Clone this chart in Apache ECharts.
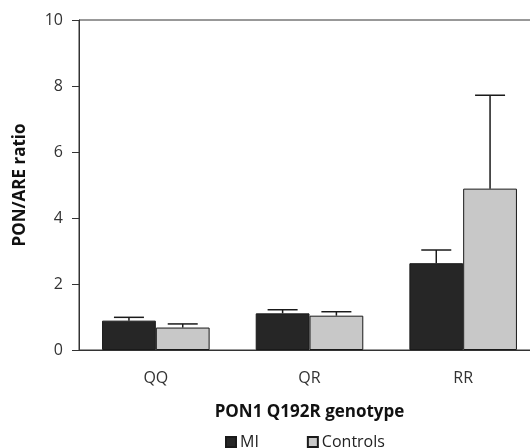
<!DOCTYPE html>
<html>
<head>
<meta charset="utf-8">
<script src="https://cdn.jsdelivr.net/npm/echarts@6/dist/echarts.min.js"></script>
<style>
html,body{margin:0;padding:0;background:#fff;}
#chart{width:530px;height:448px;}
</style>
</head>
<body>
<div id="chart"></div>
<script>
const categories = ['QQ', 'QR', 'RR'];
const miMeans = [0.89, 1.11, 2.63];
const miErr = [0.10, 0.11, 0.40];
const ctrlMeans = [0.68, 1.04, 4.89];
const ctrlErr = [0.11, 0.12, 2.83];
const yTicks = [0, 2, 4, 6, 8, 10];

const FONT = '"Open Sans", sans-serif';
const chart = echarts.init(document.getElementById('chart'), null, {renderer: 'canvas'});

function errSeries(means, errs, offsetSign, name) {
  return {
    type: 'custom',
    name: name + ' err',
    z: 5,
    silent: true,
    data: means.map((m, i) => [i, m, m + errs[i]]),
    renderItem: function (params, api) {
      const idx = api.value(0);
      const band = api.size([1, 0])[0];
      const barW = band * 0.7 / 2;
      const base = api.coord([idx, api.value(1)]);
      const top = api.coord([idx, api.value(2)]);
      const x = base[0] + offsetSign * barW / 2;
      const cap = 15;
      const st = {stroke: '#1a1a1a', lineWidth: 1.5};
      return {
        type: 'group',
        children: [
          {type: 'line', shape: {x1: x, y1: base[1], x2: x, y2: top[1]}, style: st},
          {type: 'line', shape: {x1: x - cap, y1: top[1], x2: x + cap, y2: top[1]}, style: st}
        ]
      };
    }
  };
}

chart.setOption({
  animation: false,
  textStyle: {fontFamily: FONT},
  grid: {left: 79, width: 461, top: 20, height: 330, show: true, borderColor: '#333', borderWidth: 1,
    outerBoundsMode: 'none', containLabel: false},
  legend: {
    left: 220, top: 429,
    itemWidth: 10, itemHeight: 10, itemGap: 48,
    icon: 'rect',
    data: ['MI', 'Controls'],
    textStyle: {fontFamily: FONT, fontSize: 16, color: '#222', padding: [0, 0, 0, -1]}
  },
  xAxis: {
    type: 'category',
    data: categories,
    name: 'PON1 Q192R genotype',
    nameLocation: 'middle',
    nameGap: 54,
    nameTextStyle: {fontFamily: FONT, fontSize: 17, fontWeight: 'bold', color: '#111'},
    axisLine: {lineStyle: {color: '#333', width: 1}},
    axisTick: {alignWithLabel: true, length: 7, lineStyle: {color: '#333'}},
    axisLabel: {fontFamily: FONT, fontSize: 16, color: '#333', margin: 20}
  },
  yAxis: {
    type: 'value',
    min: 0, max: 10, interval: 2,
    name: 'PON/ARE ratio',
    nameLocation: 'middle',
    nameGap: 50,
    nameTextStyle: {fontFamily: FONT, fontSize: 17, fontWeight: 'bold', color: '#111'},
    axisLine: {show: true, lineStyle: {color: '#333', width: 1}},
    axisTick: {show: true, length: 7, lineStyle: {color: '#333'}},
    axisLabel: {fontFamily: FONT, fontSize: 16, color: '#333', margin: 16,
      formatter: v => yTicks.includes(v) ? String(v) : ''},
    splitLine: {show: false}
  },
  series: [
    {name: 'MI', type: 'bar', data: miMeans, barGap: '0%', barCategoryGap: '30%',
      itemStyle: {color: '#262626', borderColor: '#1a1a1a', borderWidth: 1}},
    {name: 'Controls', type: 'bar', data: ctrlMeans,
      itemStyle: {color: '#c8c8c8', borderColor: '#1a1a1a', borderWidth: 1}},
    errSeries(miMeans, miErr, -1, 'MI'),
    errSeries(ctrlMeans, ctrlErr, 1, 'Controls')
  ]
});
</script>
</body>
</html>
